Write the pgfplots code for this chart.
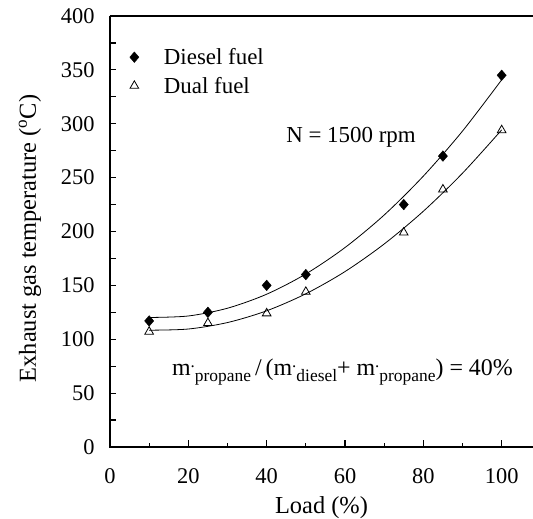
\documentclass[border=0pt]{standalone}
\usepackage{fontspec}
\setmainfont{Liberation Serif}
\usepackage{pgfplots}
\pgfplotsset{compat=1.18}
\newcommand\sub[1]{\raisebox{-6bp}{\fontsize{17.5}{17.5}\selectfont #1}}
\newcommand\mdot{m\raisebox{8bp}{\fontsize{17}{17}\selectfont .}}
\begin{document}
\begin{tikzpicture}
\begin{axis}[
  at={(0,0)}, anchor=south west,
  scale only axis,
  width=423bp, height=431bp,
  xmin=0, xmax=108, ymin=0, ymax=400,
  axis line style={draw=none},
  xtick pos=lower, ytick pos=left,
  xtick={0,20,40,60,80,100},
  minor xtick={10,30,50,70,90},
  ytick={0,25,...,400},
  yticklabels={0,,50,,100,,150,,200,,250,,300,,350,,400},
  tick align=inside,
  major tick length=6.5bp,
  minor tick length=4bp,
  /pgf/number format/assume math mode=true,
  ticklabel style={font=\fontsize{22.5}{22.5}\selectfont},
  xticklabel style={yshift=-18bp},
  yticklabel style={xshift=-12bp},
  every tick/.append style={black, line width=1.2pt},
  xlabel={Load (\%)},
  ylabel={Exhaust gas temperature (\textsuperscript{o}C)},
  label style={font=\fontsize{24.5}{24.5}\selectfont},
  xlabel style={at={(axis description cs:0.5,0)}, anchor=base, yshift=-66bp},
  ylabel style={at={(axis description cs:-0.175,0.484)}, anchor=base},
  legend style={draw=none, fill=none, at={(axis cs:5,372)}, anchor=north west,
    inner sep=0pt, font=\fontsize{23}{23}\selectfont, row sep=7bp, column sep=23bp,
    nodes={inner sep=2bp}},
  legend cell align=left,
  clip=false,
]
\addplot[only marks, mark=diamond*, mark size=5.3bp, black, mark options={xscale=1.15}] coordinates {
 (10,117) (25,125) (40,150) (50,160) (75,225) (85,270) (100,345)};
\addlegendentry{Diesel fuel}
\addplot[only marks, mark=triangle, mark size=5bp, black, line width=0.8pt, mark options={fill=white}] coordinates {
 (10,107) (25,115) (40,124) (50,144) (75,199) (85,239) (100,294)};
\addlegendentry{Dual fuel}
\addplot[smooth, black, line width=0.8pt, forget plot] coordinates {
 (10,120.2) (20,121.6) (30,128.8) (40,141.8) (50,160.6) (60,185.1) (70,215.3) (80,251.4) (90,293.2) (100,340.8)};
\addplot[smooth, black, line width=0.8pt, forget plot] coordinates {
 (10,108.4) (20,109.5) (30,115.5) (40,126.4) (50,142.2) (60,162.8) (70,188.4) (80,218.8) (90,254.1) (100,294.3)};
\node[font=\fontsize{23}{23}\selectfont, anchor=base east, inner sep=0pt] at (axis cs:78.1,283) {N = 1500 rpm};
\node[font=\fontsize{24}{24}\selectfont, anchor=base west, inner sep=0pt] at (axis cs:15.8,65.9)
 {\mdot\sub{propane}\,/\,(\mdot\sub{diesel}+ \mdot\sub{propane}) = 40\%};
\draw[line width=1.4pt] (rel axis cs:0,1) -- (rel axis cs:0,0) -- (rel axis cs:1,0);
\draw[line width=1.4pt] (rel axis cs:0,1) -- (rel axis cs:1,1);
\end{axis}
\pgfresetboundingbox
\useasboundingbox (-110bp,-72bp) rectangle (423bp,447bp);
\end{tikzpicture}
\end{document}
